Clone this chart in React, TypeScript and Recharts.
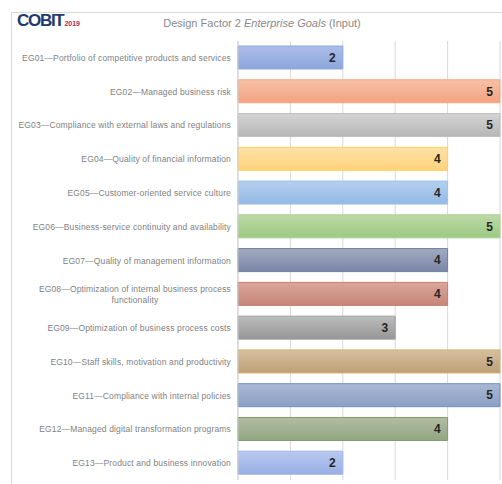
import React from "react";
import { BarChart, Bar, XAxis, YAxis, CartesianGrid, Cell, LabelList } from "recharts";

const categories: string[] = [
  "EG01—Portfolio of competitive products and services",
  "EG02—Managed business risk",
  "EG03—Compliance with external laws and regulations",
  "EG04—Quality of financial information",
  "EG05—Customer-oriented service culture",
  "EG06—Business-service continuity and availability",
  "EG07—Quality of management information",
  "EG08—Optimization of internal business process\nfunctionality",
  "EG09—Optimization of business process costs",
  "EG10—Staff skills, motivation and productivity",
  "EG11—Compliance with internal policies",
  "EG12—Managed digital transformation programs",
  "EG13—Product and business innovation",
];

const values: number[] = [2, 5, 5, 4, 4, 5, 4, 4, 3, 5, 5, 4, 2];

const topColors: string[] = [
  "#adbde8", "#f8c0a6", "#d4d4d4", "#ffe2a8", "#b4cfee", "#bddaa8",
  "#a3abc2", "#daa59b", "#bcbcbc", "#d6c09f", "#aab8d3", "#b1bda2", "#b8c8ef",
];
const bottomColors: string[] = [
  "#8ca6dc", "#f3a382", "#b6b6b6", "#ffd27a", "#93b9e5", "#9bc982",
  "#7b85a5", "#c6867a", "#969696", "#bd9f76", "#8b9fc6", "#92a682", "#98b0e3",
];
const strokeColors: string[] = [
  "#8fa8dc", "#f4a582", "#bfbfbf", "#ffd05b", "#9dc3e6", "#a9d18e",
  "#6f7d9f", "#c47f70", "#a0a0a0", "#d2b26e", "#6d8fbf", "#7f9a6c", "#a0b5e6",
];

const xTicks: number[] = [0, 1, 2, 3, 4, 5];

const data = categories.map((c, i) => ({ name: c, value: values[i] }));

let measureCtx: CanvasRenderingContext2D | null = null;
function measure(text: string, font: string, spacing: number): number {
  if (!measureCtx) {
    const c = document.createElement("canvas");
    measureCtx = c.getContext("2d");
  }
  if (!measureCtx) return text.length * 4;
  measureCtx.font = font;
  return measureCtx.measureText(text).width + spacing * text.length;
}

const LABEL_FONT_SIZE = 8.5;
const LABEL_SPACING = 0.15;
const LABEL_FONT = "'Liberation Sans', Arial, sans-serif";

const CategoryTick = (props: any) => {
  const { x, y, payload } = props;
  const lines: string[] = String(payload.value).split("\n");
  const endX = x + 1;
  if (lines.length === 1) {
    return (
      <text
        x={endX}
        y={y}
        dy={3}
        textAnchor="end"
        fill="#7f7f7f"
        fontSize={LABEL_FONT_SIZE}
        fontFamily={LABEL_FONT}
        letterSpacing={LABEL_SPACING}
      >
        {lines[0]}
      </text>
    );
  }
  const w = Math.max(...lines.map((l) => measure(l, `${LABEL_FONT_SIZE}px ${LABEL_FONT}`, LABEL_SPACING)));
  const cx = endX - w / 2;
  const lh = 11;
  const start = -((lines.length - 1) * lh) / 2;
  return (
    <text
      x={cx}
      y={y}
      textAnchor="middle"
      fill="#7f7f7f"
      fontSize={LABEL_FONT_SIZE}
      fontFamily={LABEL_FONT}
      letterSpacing={LABEL_SPACING}
    >
      {lines.map((l, i) => (
        <tspan key={i} x={cx} y={y + start + i * lh + 3}>
          {l}
        </tspan>
      ))}
    </text>
  );
};

export default function App() {
  return (
    <div style={{ position: "absolute", left: 0, top: 0, width: 502, height: 484, overflow: "hidden", background: "#ffffff" }}>
      <div
        style={{
          position: "absolute",
          left: 11,
          top: 12,
          width: 600,
          height: 600,
          border: "1px solid #d9d9d9",
          boxSizing: "border-box",
        }}
      />
      <div
        style={{
          position: "absolute",
          left: 17,
          top: 11,
          fontFamily: "'Liberation Sans', Arial, sans-serif",
          fontWeight: 700,
          fontSize: 17,
          letterSpacing: -1.3,
          color: "#1f3a6e",
          whiteSpace: "nowrap",
        }}
      >
        COBIT
        <span style={{ fontSize: 7, color: "#b3284d", letterSpacing: 0, marginLeft: 1 }}>2019</span>
      </div>
      <div
        style={{
          position: "absolute",
          left: 0,
          top: 17,
          width: 524,
          textAlign: "center",
          fontFamily: "'Liberation Sans', Arial, sans-serif",
          fontSize: 11,
          color: "#8a8a8a",
          whiteSpace: "nowrap",
        }}
      >
        Design Factor 2 <i>Enterprise Goals</i> (Input)
      </div>
      <div style={{ position: "absolute", left: 0, top: 0 }}>
        <BarChart
          width={502}
          height={484}
          data={data}
          layout="vertical"
          margin={{ top: 41, right: 2, bottom: 4, left: 0 }}
          barSize={23}
        >
          <defs>
            {values.map((_, i) => (
              <linearGradient key={i} id={`g${i}`} x1="0" y1="0" x2="0" y2="1">
                <stop offset="0%" stopColor={topColors[i]} />
                <stop offset="100%" stopColor={bottomColors[i]} />
              </linearGradient>
            ))}
          </defs>
          <CartesianGrid horizontal={false} vertical={true} stroke="#d9d9d9" />
          <XAxis type="number" domain={[0, 5]} ticks={xTicks} hide />
          <YAxis
            type="category"
            dataKey="name"
            width={238}
            axisLine={{ stroke: "#d0d0d0" }}
            tickLine={false}
            tick={<CategoryTick />}
            interval={0}
          />
          <Bar dataKey="value" isAnimationActive={false}>
            {values.map((_, i) => (
              <Cell key={i} fill={`url(#g${i})`} stroke={strokeColors[i]} strokeWidth={1} />
            ))}
            <LabelList
              dataKey="value"
              position="insideRight"
              offset={7}
              fill="#262626"
              fontSize={12}
              fontWeight={700}
              fontFamily="'Liberation Sans', Arial, sans-serif"
            />
          </Bar>
        </BarChart>
      </div>
    </div>
  );
}
